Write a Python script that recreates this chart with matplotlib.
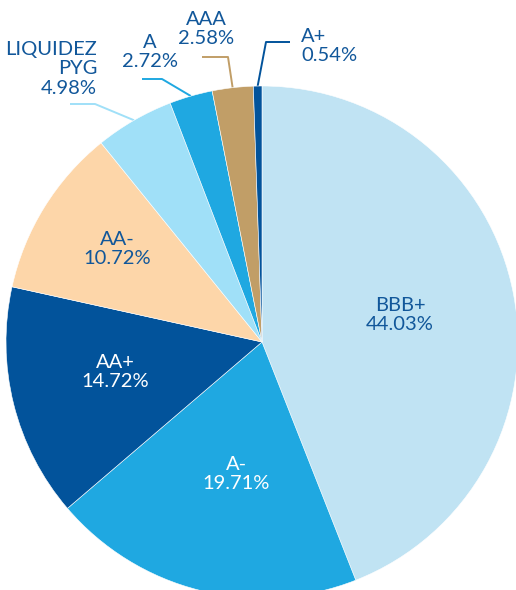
import numpy as np
import matplotlib
matplotlib.use("Agg")
import matplotlib.pyplot as plt

categories = ["BBB+", "A-", "AA+", "AA-", "LIQUIDEZ\nPYG", "A", "AAA", "A+"]
values = [44.03, 19.71, 14.72, 10.72, 4.98, 2.72, 2.58, 0.54]
colors = ["#c0e3f3", "#1fa8e1", "#02539b", "#fdd6a9", "#a0e0f8", "#1fa8e1", "#c19e67", "#02539b"]

TXT = "#11579a"
W, H = 516, 590
fig = plt.figure(figsize=(W / 100, H / 100), dpi=100)
ax = fig.add_axes([0, 0, 1, 1])
ax.set_xlim(0, W)
ax.set_ylim(0, H)
ax.set_aspect("equal")
ax.axis("off")

cx, cy, R = 262, H - 342, 256
wedges, _ = ax.pie(values, colors=colors, startangle=90, counterclock=False,
                   center=(cx, cy), radius=R, frame=True,
                   wedgeprops=dict(edgecolor="white", linewidth=0.4))
ax.set_xlim(0, W)
ax.set_ylim(0, H)
ax.axis("off")

font = dict(family=["Lato", "DejaVu Sans"], fontsize=14.5)

# inside labels: (text x, text y in pixels from top, color)
inside = {0: (400, 315, TXT), 1: (236, 474, "white"), 2: (115, 372, "white"), 3: (117, 249, TXT)}
for i, (tx, ty, col) in inside.items():
    ax.text(tx, H - ty, f"{categories[i]}\n{values[i]:.2f}%", ha="center", va="center",
            color=col, linespacing=1.15, **font)

# outside labels: text anchor, ha, elbow start, elbow point
outside = {
    4: ((97, 69), "right", (70, 104), (95, 104)),
    5: ((150, 52), "center", (142, 79), (162, 79)),
    6: ((206, 29), "center", (202, 57), (228, 57)),
    7: ((301, 46), "left", (290, 42), (266, 42)),
}
for i, ((tx, ty), ha, p0, p1) in outside.items():
    w = wedges[i]
    ang = np.deg2rad((w.theta1 + w.theta2) / 2)
    ex, ey = cx + R * np.cos(ang), cy + R * np.sin(ang)
    ax.plot([p0[0], p1[0], ex], [H - p0[1], H - p1[1], ey], color=colors[i], lw=1.4,
            solid_capstyle="butt", zorder=0.5)
    ax.text(tx, H - ty, f"{categories[i]}\n{values[i]:.2f}%", ha=ha, va="center",
            color=TXT, linespacing=1.15, multialignment=ha, **font)

fig.savefig("out.png", dpi=100)
